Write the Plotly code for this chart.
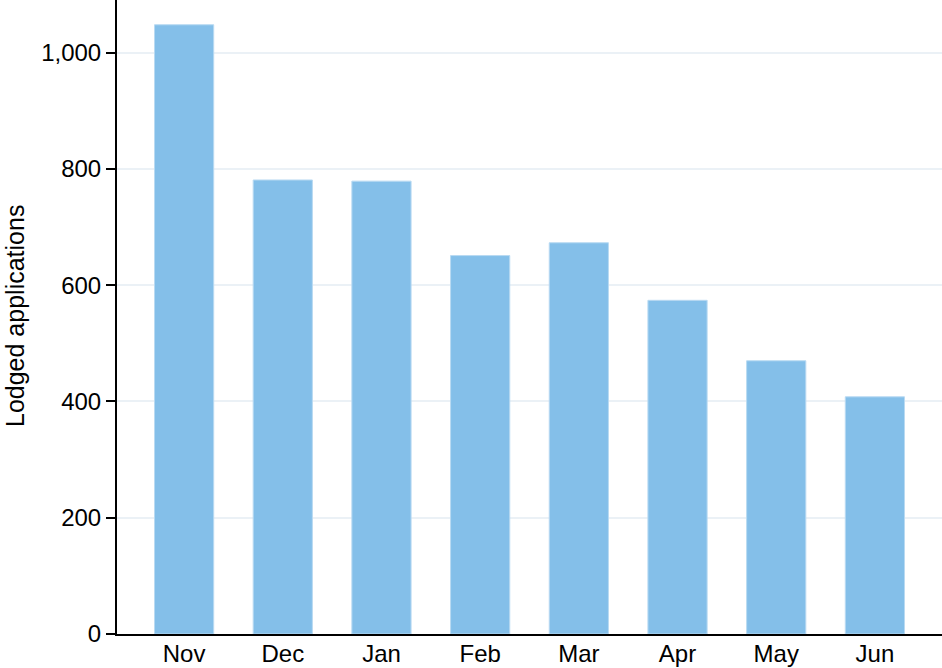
import plotly.graph_objects as go

months = ["Nov", "Dec", "Jan", "Feb", "Mar", "Apr", "May", "Jun"]
lodged = [1048, 781, 779, 651, 673, 574, 470, 408]
y_ticks = [0, 200, 400, 600, 800, 1000]
y_tick_labels = ["0", "200", "400", "600", "800", "1,000"]

fig = go.Figure()
fig.add_trace(go.Bar(
    x=months,
    y=lodged,
    width=0.6,
    marker=dict(color="#84bfe9", line=dict(color="#b9daf2", width=1)),
))

W, H = 942, 668
L, R, T, B = 117, 0, 0, 34
fig.update_layout(
    width=W, height=H,
    margin=dict(l=L, r=R, t=T, b=B, autoexpand=False),
    paper_bgcolor="white",
    plot_bgcolor="white",
    showlegend=False,
    font=dict(family="Liberation Sans, Arial, sans-serif", size=24, color="black"),
    bargap=0.4,
)
fig.update_xaxes(
    range=[-0.68, 7.68],
    showline=True, linecolor="black", linewidth=2,
    ticks="", showgrid=False,
    tickfont=dict(size=24, color="black"),
    ticklabelstandoff=-3,
    automargin=False,
)
fig.update_yaxes(
    range=[0, 1090.6],
    tickvals=y_ticks, ticktext=y_tick_labels,
    showline=True, linecolor="black", linewidth=2,
    ticks="outside", ticklen=9, tickwidth=2, tickcolor="black",
    showgrid=True, gridcolor="#ebf1f6", gridwidth=2,
    zeroline=False,
    tickfont=dict(size=24, color="black"),
    automargin=False,
)
fig.add_annotation(
    text="Lodged applications",
    xref="paper", yref="paper",
    x=(15 - L) / (W - L - R), y=1 - 316 / (H - T - B),
    xanchor="center", yanchor="middle",
    textangle=-90, showarrow=False,
    font=dict(size=25, color="black"),
)

fig.write_html(
    "out.html",
    config={"displayModeBar": False},
    post_script="document.body.style.margin='0';document.body.style.overflow='hidden';",
)
